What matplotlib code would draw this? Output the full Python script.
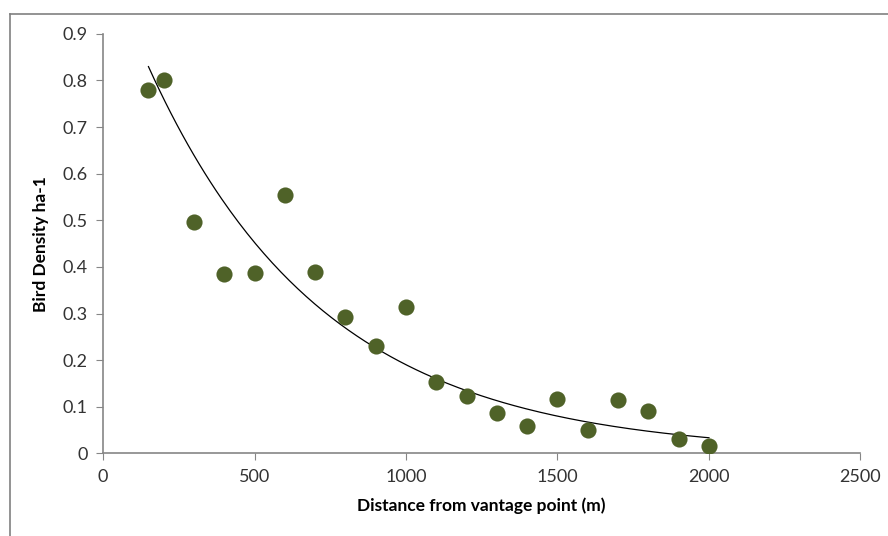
""" Bird density vs distance from vantage point, with exponential trendline. """

import numpy as np
import matplotlib
matplotlib.use("Agg")
import matplotlib.pyplot as plt
from matplotlib.lines import Line2D

plt.rcParams['font.family'] = ['Lato', 'DejaVu Sans']

distance = [150, 200, 300, 400, 500, 600, 700, 800, 900, 1000,
            1100, 1200, 1300, 1400, 1500, 1600, 1700, 1800, 1900, 2000]
density = [0.78, 0.80, 0.497, 0.385, 0.387, 0.555, 0.39, 0.293, 0.231, 0.314,
           0.153, 0.124, 0.087, 0.059, 0.117, 0.05, 0.115, 0.091, 0.031, 0.016]

x_ticks = [0, 500, 1000, 1500, 2000, 2500]
y_ticks = [0, 0.1, 0.2, 0.3, 0.4, 0.5, 0.6, 0.7, 0.8, 0.9]

GREEN = '#4f6228'
GREY = '#868686'


def main():
    fig = plt.figure(figsize=(8.88, 5.36), dpi=100)
    ax = fig.add_axes([0.116, 0.154, 0.853, 0.783])

    ax.scatter(distance, density, s=135, color=GREEN, zorder=3, linewidths=0)

    # exponential trendline, fitted like excel does (linear fit on ln y)
    x = np.array(distance, dtype=float)
    b, ln_a = np.polyfit(x, np.log(density), 1)
    xs = np.linspace(x.min(), x.max(), 200)
    ax.plot(xs, np.exp(ln_a) * np.exp(b * xs), color='black', lw=0.9, zorder=2)

    ax.set_xlim(0, 2500)
    ax.set_ylim(0, 0.9)
    ax.set_xticks(x_ticks)
    ax.set_yticks(y_ticks)
    ax.set_yticklabels(['0'] + [f'{v:.1f}' for v in y_ticks[1:]])

    for side in ['top', 'right']:
        ax.spines[side].set_visible(False)
    for side in ['left', 'bottom']:
        ax.spines[side].set_color(GREY)
        ax.spines[side].set_linewidth(1.2)
    ax.tick_params(direction='out', length=5, color=GREY, labelsize=13,
                   labelcolor='#333333', pad=6)

    ax.set_xlabel('Distance from vantage point (m)', fontsize=12.5, fontweight='bold', labelpad=9)
    ax.set_ylabel('Bird Density ha-1', fontsize=12.5, fontweight='bold', labelpad=10)

    # chart area border (only top and left visible in the original crop)
    fig.add_artist(Line2D([10 / 888, 1], [1 - 13.5 / 536] * 2, color='#808080', lw=1.2))
    fig.add_artist(Line2D([10 / 888] * 2, [0, 1 - 13.5 / 536], color='#808080', lw=1.2))

    fig.savefig('out.png', dpi=100)


if __name__ == "__main__":
    main()
